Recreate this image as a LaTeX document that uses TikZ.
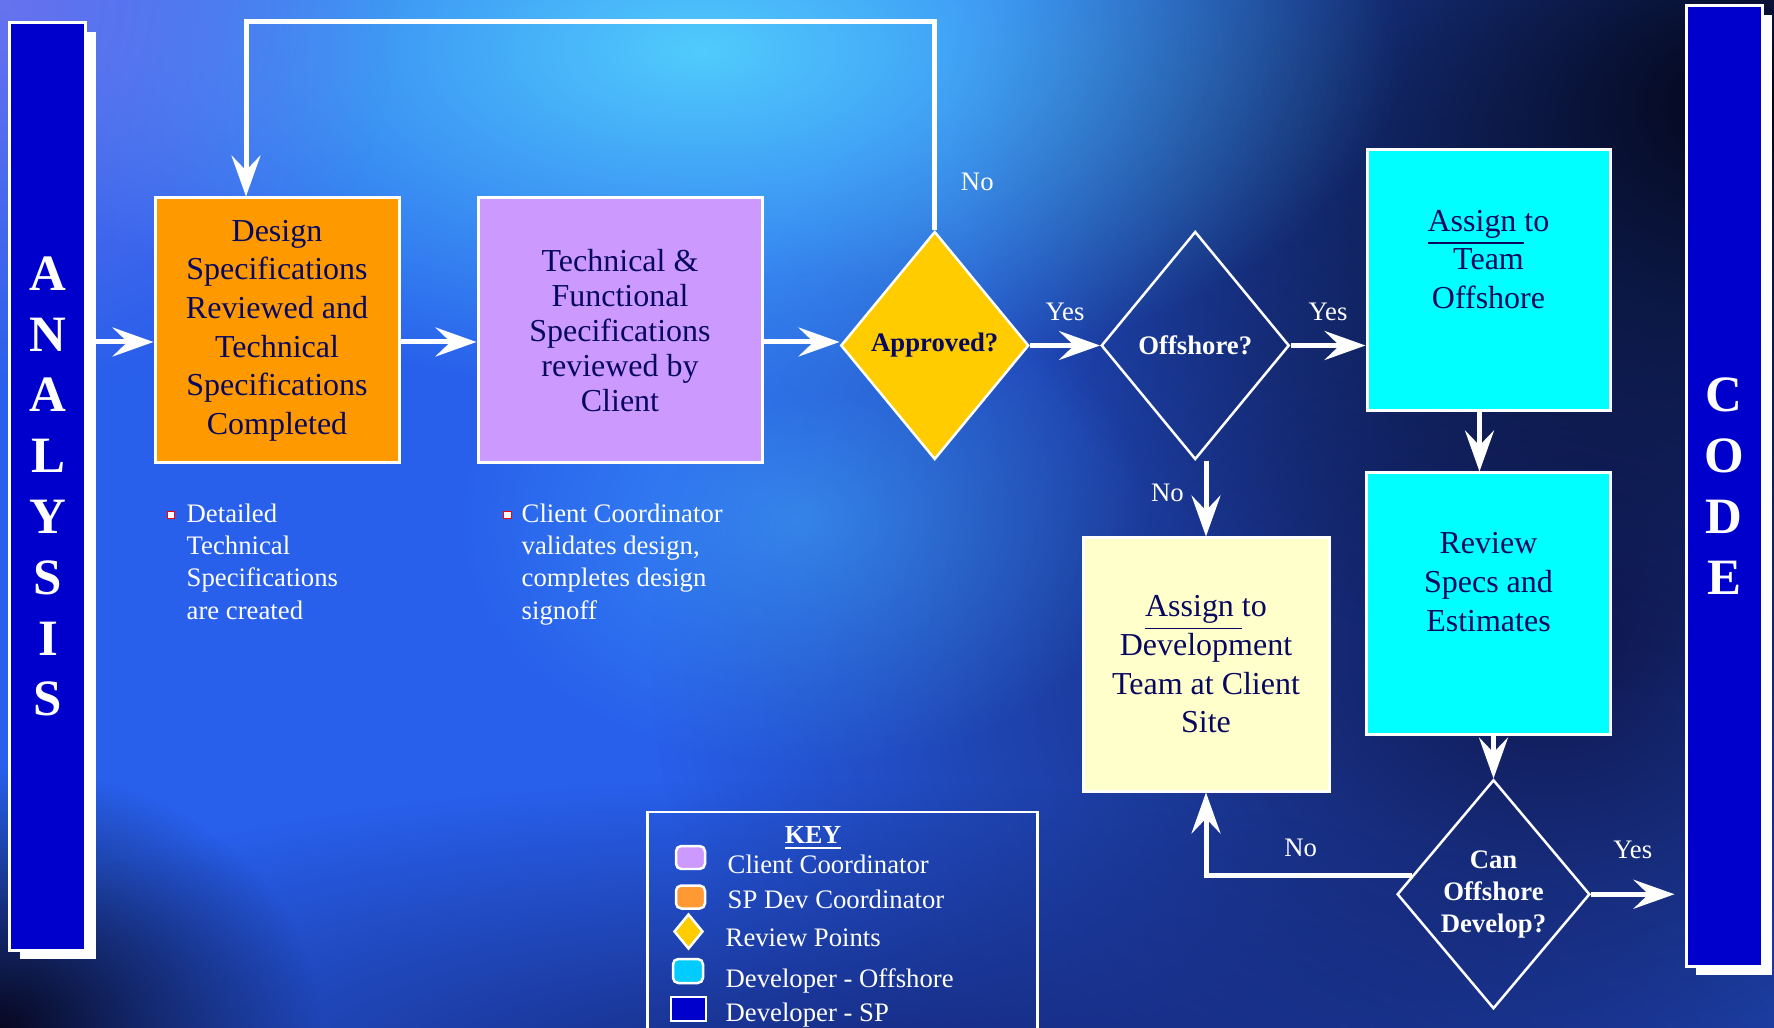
\documentclass[tikz,border=0pt]{standalone}
\usepackage{fontspec}
\setmainfont{Liberation Serif}
\usepackage{xcolor}
\usepackage{tikz}
\usetikzlibrary{shapes.geometric, arrows.meta, positioning, shadows, fadings}
\definecolor{boxink}{RGB}{8,8,96}
\definecolor{sporange}{RGB}{255,153,0}
\definecolor{clientlilac}{RGB}{204,153,255}
\definecolor{reviewgold}{RGB}{255,204,0}
\definecolor{offcyan}{RGB}{0,255,255}
\definecolor{siteivory}{RGB}{255,255,204}
\definecolor{barblue}{RGB}{0,0,204}
\definecolor{keyorange}{RGB}{255,153,51}
\definecolor{keycyan}{RGB}{0,204,255}
\definecolor{bgbase}{RGB}{40,95,235}
\definecolor{bgblack}{RGB}{4,6,24}
\definecolor{bgnavy}{RGB}{16,24,80}
\definecolor{bgdeep}{RGB}{8,8,32}
\definecolor{bgfloor}{RGB}{16,24,90}
\definecolor{bgsky}{RGB}{85,215,255}
\definecolor{bgspot}{RGB}{70,180,255}
\definecolor{bgviolet}{RGB}{120,120,240}
\tikzfading[name=glow, inner color=transparent!0, outer color=transparent!100]
\tikzstyle{phase} = [rectangle, draw=white, line width=0.03cm, fill=barblue, minimum width=0.76cm, minimum height=9.27cm, text=white, align=center, font=\bfseries\fontsize{14.5}{17.3}\selectfont, drop shadow={shadow xshift=0.10cm, shadow yshift=-0.09cm, fill=white, opacity=1}]
\tikzstyle{devbox} = [rectangle, draw=white, line width=0.03cm, fill=sporange, minimum width=2.44cm, minimum height=2.65cm, inner sep=0pt, text=boxink, align=center, font=\fontsize{9.1}{11}\selectfont]
\tikzstyle{clientbox} = [devbox, fill=clientlilac, minimum width=2.84cm, font=\fontsize{9.1}{9.9}\selectfont]
\tikzstyle{offbox} = [devbox, fill=offcyan, minimum width=2.43cm, minimum height=2.61cm]
\tikzstyle{sitebox} = [devbox, fill=siteivory, minimum width=2.46cm, minimum height=2.53cm]
\tikzstyle{boxtext} = [text=boxink, align=center, font=\fontsize{9.1}{11}\selectfont]
\tikzstyle{reviewpt} = [diamond, draw=white, line width=0.025cm, fill=reviewgold, minimum width=1.88cm, minimum height=2.28cm, inner sep=0pt, text=boxink, align=center, font=\bfseries\fontsize{7.6}{9.1}\selectfont]
\tikzstyle{decision} = [reviewpt, fill=none, text=white]
\tikzstyle{line} = [draw, white, line width=0.05cm, -{Stealth[length=0.41cm, width=0.29cm, inset=0.15cm]}]
\tikzstyle{lbl} = [text=white, font=\fontsize{7.6}{9.1}\selectfont]
\tikzstyle{note} = [text=white, align=left, anchor=north west, inner sep=0pt, font=\fontsize{7.6}{9.2}\selectfont]
\tikzstyle{bullet} = [rectangle, draw=red, fill=white, line width=0.35pt, minimum size=0.075cm, inner sep=0pt]
\tikzstyle{keyframe} = [rectangle, draw=white, line width=0.025cm, anchor=north west, minimum width=3.90cm, minimum height=2.40cm]
\tikzstyle{swatch} = [rectangle, rounded corners=1.5pt, draw=white, line width=0.025cm, minimum width=0.29cm, minimum height=0.23cm, inner sep=0pt]
\tikzstyle{keytext} = [text=white, anchor=base west, inner sep=0pt, font=\fontsize{7.6}{9.1}\selectfont]
\begin{document}
\begin{tikzpicture}
    \useasboundingbox (0,0) rectangle (17.74,-10.28);
    % Background
    \fill[bgbase] (0,0) rectangle (17.74,-10.28);
    \fill[bgnavy, path fading=glow] (15.5,-6.5) ellipse (9 and 8);
    \fill[bgblack, path fading=glow] (17.5,-1.0) ellipse (8 and 6);
    \fill[bgfloor, path fading=glow, opacity=0.75] (8,-10.8) ellipse (10 and 3.0);
    \fill[bgdeep, path fading=glow] (0,-10.28) ellipse (3.2 and 2.6);
    \fill[bgsky, path fading=glow, opacity=0.9] (7,-0.5) ellipse (7 and 3.5);
    \fill[bgspot, path fading=glow, opacity=0.5] (8.0,-5.2) ellipse (3.5 and 2.5);
    \fill[bgviolet, path fading=glow, opacity=0.8] (0,0) ellipse (4 and 4);

    % Nodes
    \node [phase] (analysis) at (0.48,-4.865) {A\\N\\A\\L\\Y\\S\\I\\S};
    \node [phase, minimum height=9.60cm] (code) at (17.24,-4.86) {C\\O\\D\\E};
    \node [devbox] (design) at (2.77,-3.305) {Design\\Specifications\\Reviewed and\\Technical\\Specifications\\Completed};
    \node [clientbox, right=0.76cm of design] (tech) {Technical \&\\Functional\\Specifications\\reviewed by\\Client};
    \node [reviewpt, right=0.76cm of tech, yshift=-0.15cm] (approved) {Approved?};
    \node [decision, right=0.70cm of approved] (offshore) {Offshore?};
    \node [offbox] (assignoff) at (14.885,-2.805) {};
    \node [boxtext] at ([yshift=0.21cm]assignoff.center) {\underline{Assign }to\\Team\\Offshore};
    \node [offbox, below=0.59cm of assignoff, minimum width=2.44cm, minimum height=2.62cm] (review) {};
    \node [boxtext] at ([yshift=0.22cm]review.center) {Review\\Specs and\\Estimates};
    \node [sitebox] (assigndev) at (12.06,-6.645) {\underline{Assign }to\\Development\\Team at Client\\Site};
    \node [decision, minimum width=1.89cm, minimum height=2.29cm, below=0.42cm of review, xshift=0.05cm] (candevelop) {Can\\Offshore\\Develop?};

    % Notes
    \node [bullet] (designbullet) at (1.71,-5.15) {};
    \node [note] (designnote) at (1.86,-5.03) {Detailed\\Technical\\Specifications\\are created};
    \node [bullet] (techbullet) at (5.075,-5.15) {};
    \node [note] (technote) at (5.21,-5.03) {Client Coordinator\\validates design,\\completes design\\signoff};

    % Key
    \node [keyframe] (key) at (6.46,-8.11) {};
    \node [text=white, font=\bfseries\fontsize{7.4}{9}\selectfont] (keyhead) at (8.13,-8.38) {\underline{KEY}};
    \node [swatch, fill=clientlilac] (keyclient) at (6.905,-8.575) {};
    \node [swatch, fill=keyorange] (keysp) at (6.905,-8.97) {};
    \node [diamond, draw=white, line width=0.025cm, fill=reviewgold, minimum width=0.29cm, minimum height=0.35cm, inner sep=0pt] (keyreview) at (6.885,-9.315) {};
    \node [swatch, fill=keycyan, minimum width=0.30cm, minimum height=0.24cm] (keyoff) at (6.88,-9.71) {};
    \node [swatch, fill=barblue, rounded corners=0pt, minimum width=0.35cm, minimum height=0.24cm] (keydev) at (6.885,-10.09) {};
    \node [keytext] at (7.27,-8.73) {Client Coordinator};
    \node [keytext] at (7.27,-9.09) {SP Dev Coordinator};
    \node [keytext] at (7.25,-9.47) {Review Points};
    \node [keytext] at (7.25,-9.87) {Developer - Offshore};
    \node [keytext] at (7.25,-10.22) {Developer - SP};

    % Edges
    \coordinate (row) at (0,-3.42);
    \coordinate (looptop) at (0,-0.22);
    \coordinate (codein) at ([xshift=-0.10cm]code.west);
    \path [line] (analysis.east |- row) -- (design.west |- row);
    \path [line] (design.east |- row) -- (tech.west |- row);
    \path [line] (tech.east |- row) -- (approved.west |- row);
    \path [line] (approved.east) -- node [lbl, above=0.11cm] {Yes} (offshore.west);
    \path [line] (approved.north) -- node [lbl, right=0.12cm, pos=0.23] {No} (approved.north |- looptop) -| ([xshift=-0.31cm]design.north);
    \path [line] (offshore.east) -- node [lbl, above=0.11cm] {Yes} (offshore.east -| assignoff.west);
    \path [line] (offshore.south -| assigndev.north) -- node [lbl, left=0.08cm, pos=0.43] {No} (assigndev.north);
    \path [line] ([xshift=-0.09cm]assignoff.south) -- ([xshift=-0.09cm]review.north);
    \path [line] (review.south -| candevelop.north) -- (candevelop.north);
    \path [line] (candevelop.167) -| node [lbl, above=0.04cm, pos=0.27] {No} (assigndev.south);
    \path [line] (candevelop.east) -- node [lbl, above=0.21cm] {Yes} (codein |- candevelop.east);
\end{tikzpicture}
\end{document}
